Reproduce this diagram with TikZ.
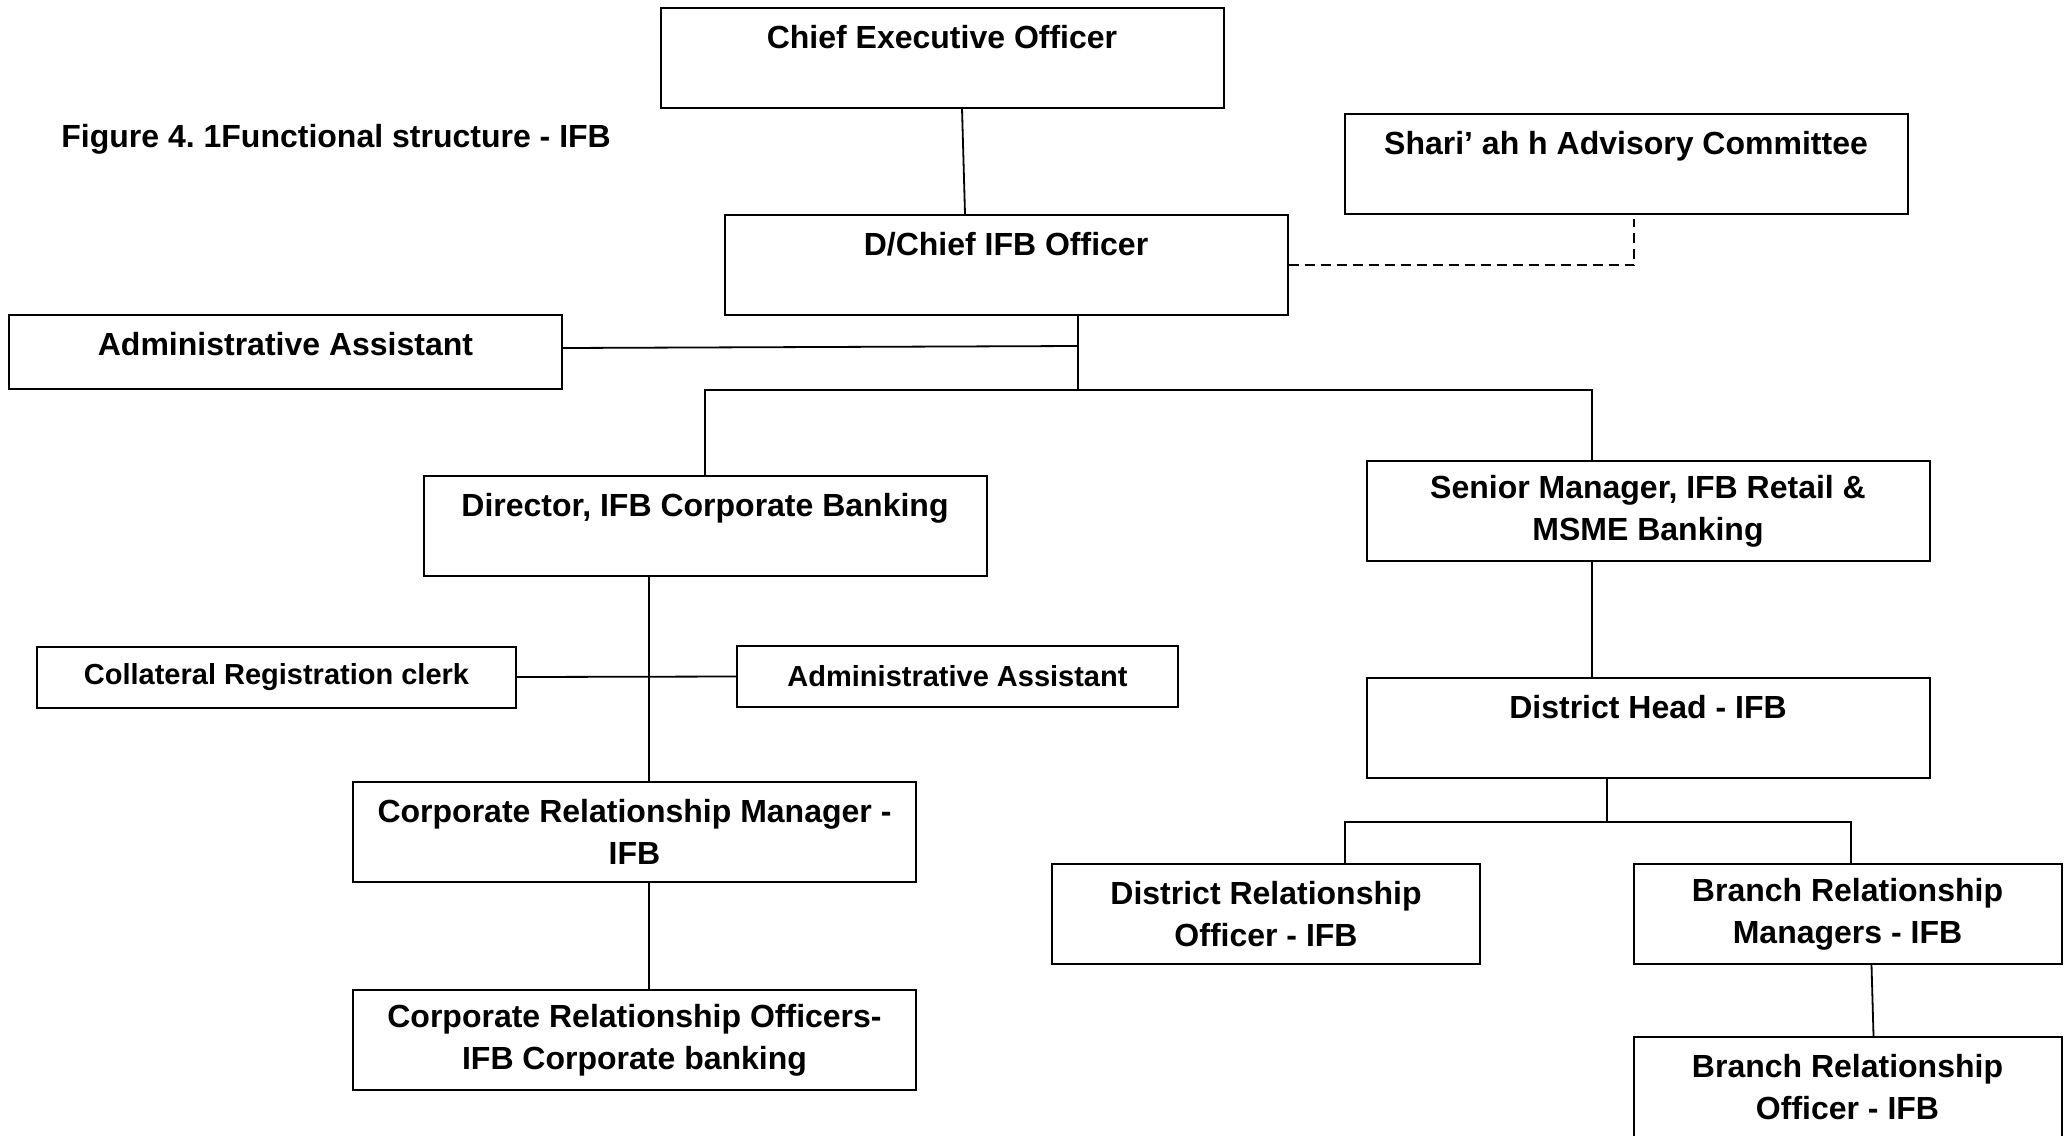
\documentclass[tikz,border=0pt]{standalone}
\usepackage{fontspec}
\setmainfont{Liberation Sans}
\usetikzlibrary{positioning,calc}
\tikzset{
  caja/.style={draw=black,line width=1pt,align=center,inner sep=0pt,
               font=\bfseries\fontsize{16}{21}\selectfont},
  cajag/.style={caja,minimum width=281.5pt,minimum height=50pt},
  cajam/.style={caja,minimum width=214pt,minimum height=50pt},
  cajap/.style={caja,minimum height=30.5pt,font=\bfseries\fontsize{14.5}{18}\selectfont},
  linea/.style={draw=black,line width=0.9pt},
  lineap/.style={linea,dash pattern=on 5pt off 3pt},
  tit/.style={font=\bfseries\fontsize{16}{21}\selectfont,inner sep=0pt,anchor=west},
}

\begin{document}
\frenchspacing
\begin{tikzpicture}[x=0.5pt,y=-0.5pt]
\useasboundingbox (0,0) rectangle (2064,1135);

\node[tit] (titulo) at (61,139) {Figure 4. 1Functional structure - IFB};

% ---------------- direccion ----------------
\node[cajag] (ceo)     at (942,57.5) {Chief Executive Officer\\\mbox{}};
\node[cajag] (dchief)  at (1006,265) {D/Chief IFB Officer\\\mbox{}};
\node[cajag] (shariah) at (1626,164) {Shari’ ah h Advisory Committee\\\mbox{}};
\node[caja,minimum width=276.5pt,minimum height=37pt,text depth=8pt] (admin)
  at (285.5,352) {Administrative Assistant};

% ---------------- rama corporativa ----------------
\node[cajag] (director) at (705,526) {Director, IFB Corporate Banking\\\mbox{}};
\node[cajap,minimum width=239.5pt] (coll) at (276.5,677) {Collateral Registration clerk};
\node[cajap,minimum width=220.5pt] (asist) at (957.5,676.5) {Administrative Assistant};
\node[cajag] (crm) at (634.5,832) {Corporate Relationship Manager -\\IFB};
\node[cajag] (cro) at (634.5,1040) {Corporate Relationship Officers-\\IFB Corporate banking};

% ---------------- rama retail ----------------
\node[cajag] (senior) at (1648,511) {Senior Manager, IFB Retail \&\\MSME Banking};
\node[cajag] (dhead)  at (1648,727.5) {District Head - IFB\\\mbox{}};
\node[cajam] (dro) at (1266,914)   {District Relationship\\Officer - IFB};
\node[cajam] (brm) at (1847.5,914) {Branch Relationship\\Managers - IFB};
\node[cajam] (bro) at (1847.5,1087) {Branch Relationship\\Officer - IFB};

% ---------------- conexiones ----------------
\coordinate (bus)  at (1078,390);
\coordinate (bus2) at (1607,822);
\coordinate (ejec) at ([xshift=-28pt]director.south);

\draw[linea] ([xshift=10pt]ceo.south) -- ([xshift=-20.5pt]dchief.north);
\draw[lineap] (dchief.east) -| ([xshift=4pt,yshift=-2pt]shariah.south);
\draw[linea] (dchief.south -| bus) -- (bus);
\draw[linea] ([yshift=2pt]admin.east) -- ([yshift=3pt]admin.east -| bus);
\draw[linea] (director.north) |- (bus) -| ([xshift=-28pt]senior.north);

\draw[linea] (ejec) -- (ejec |- crm.north);
\draw[linea] (coll.east) -- (asist.west);
\draw[linea] (ejec |- crm.south) -- (ejec |- cro.north);

\draw[linea] ([xshift=-28pt]senior.south) -- ([xshift=-28pt]dhead.north);
\draw[linea] (dhead.south -| bus2) -- (bus2);
\draw[linea] ([xshift=39.5pt]dro.north) |- (bus2) -| ([xshift=1.75pt]brm.north);
\draw[linea] ([xshift=12pt]brm.south) -- ([xshift=13pt]bro.north);

\end{tikzpicture}
\end{document}
